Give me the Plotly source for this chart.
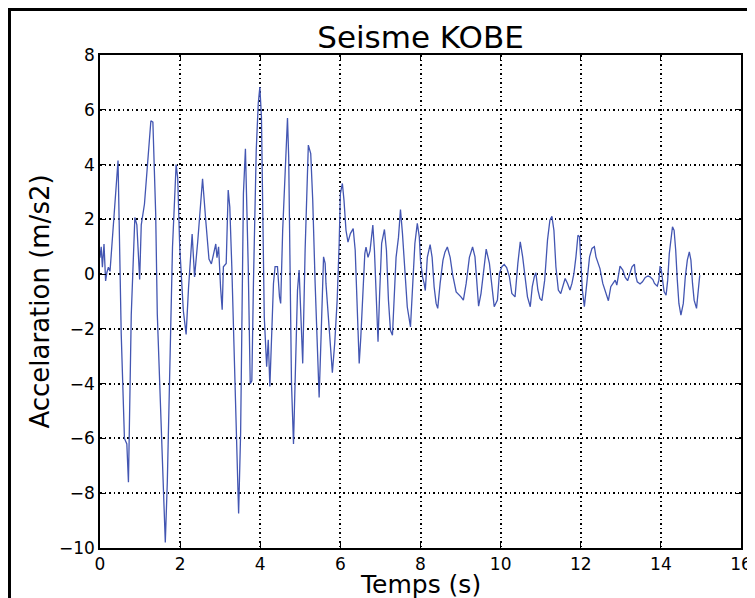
import plotly.graph_objects as go

# Time (s) and acceleration (m/s2)
t = [0.00, 0.03, 0.06, 0.10, 0.14, 0.17, 0.21, 0.25, 0.45, 0.53, 0.61, 0.67, 0.71,
     0.78, 0.87, 0.92, 0.99, 1.03, 1.11, 1.18, 1.27, 1.32, 1.39, 1.43, 1.51, 1.58, 1.63,
     1.68, 1.74, 1.81, 1.90, 1.94, 1.99, 2.08, 2.15, 2.21, 2.30, 2.36, 2.44, 2.56, 2.64,
     2.72, 2.78, 2.84, 2.89, 2.92, 2.96, 3.01, 3.05, 3.08, 3.15, 3.20, 3.24, 3.29, 3.35,
     3.40, 3.46, 3.51, 3.54, 3.58, 3.63, 3.66, 3.70, 3.75, 3.79, 3.83, 3.90, 3.95, 3.99,
     4.03, 4.06, 4.10, 4.16, 4.20, 4.24, 4.28, 4.33, 4.37, 4.43, 4.48, 4.51, 4.56, 4.62,
     4.68, 4.71, 4.74, 4.78, 4.83, 4.87, 4.93, 4.97, 5.01, 5.06, 5.12, 5.16, 5.20, 5.26,
     5.31, 5.37, 5.43, 5.47, 5.52, 5.58, 5.62, 5.64, 5.70, 5.76, 5.80, 5.86, 5.92, 5.97,
     6.00, 6.05, 6.09, 6.14, 6.19, 6.25, 6.32, 6.37, 6.40, 6.44, 6.47, 6.51, 6.56, 6.61,
     6.64, 6.69, 6.74, 6.81, 6.85, 6.89, 6.93, 6.94, 6.98, 7.03, 7.10, 7.15, 7.20, 7.25,
     7.30, 7.34, 7.39, 7.45, 7.50, 7.55, 7.61, 7.67, 7.75, 7.81, 7.86, 7.92, 7.97, 8.00,
     8.05, 8.09, 8.12, 8.17, 8.24, 8.29, 8.34, 8.39, 8.43, 8.49, 8.56, 8.61, 8.67, 8.74,
     8.80, 8.89, 8.95, 9.01, 9.07, 9.14, 9.22, 9.30, 9.36, 9.41, 9.45, 9.51, 9.57, 9.64,
     9.72, 9.78, 9.84, 9.92, 9.97, 10.03, 10.09, 10.15, 10.22, 10.28, 10.36, 10.43,
     10.49, 10.55, 10.61, 10.67, 10.74, 10.79, 10.84, 10.88, 10.93, 10.98, 11.03, 11.10,
     11.17, 11.23, 11.28, 11.33, 11.38, 11.44, 11.50, 11.55, 11.61, 11.67, 11.73, 11.78,
     11.83, 11.88, 11.93, 11.97, 12.00, 12.04, 12.09, 12.15, 12.22, 12.28, 12.34, 12.38,
     12.44, 12.48, 12.55, 12.63, 12.69, 12.75, 12.80, 12.86, 12.90, 12.94, 12.98, 13.05,
     13.11, 13.17, 13.22, 13.28, 13.34, 13.36, 13.41, 13.48, 13.54, 13.61, 13.68, 13.73,
     13.80, 13.84, 13.88, 13.91, 13.95, 13.98, 14.01, 14.05, 14.08, 14.13, 14.17, 14.21,
     14.25, 14.29, 14.33, 14.37, 14.41, 14.45, 14.50, 14.56, 14.61, 14.66, 14.71, 14.75,
     14.79, 14.83, 14.89, 14.93, 14.97, 15.04]
acc = [0.6, 1.0, 0.25, 1.1, -0.25, 0.05, 0.25, 0.1, 4.15, -2.2, -6.0, -6.2, -7.6,
       -1.5, 2.07, 1.8, -0.2, 1.8, 2.56, 4.0, 5.6, 5.55, 2.2, -1.46, -5.1, -8.2, -9.8,
       -7.6, -3.9, 1.0, 4.0, 3.5, 1.0, -1.34, -2.2, -0.5, 1.46, -0.1, 1.2, 3.48, 1.95,
       0.55, 0.37, 0.85, 1.1, 0.6, 1.0, -0.5, -1.3, 0.27, 0.39, 3.07, 2.45, 0.27, -2.77,
       -5.8, -8.74, -5.8, -2.2, 2.94, 4.58, 3.07, 0.27, -4.0, -3.9, -0.34, 4.52, 6.23, 6.83,
       5.74, 2.09, -1.56, -3.38, -2.4, -4.1, -2.5, -0.34, 0.27, 0.27, -0.83, -1.07, 1.6, 3.9,
       5.7, 4.28, 0.27, -4.0, -6.2, -4.0, -0.58, 0.15, -1.56, -3.26, 0.88, 3.31, 4.71, 4.4,
       2.7, -0.34, -3.38, -4.5, -2.2, 0.63, 0.39, -0.34, -1.56, -2.77, -3.6, -2.5, -0.95, 1.12,
       2.94, 3.31, 2.7, 1.6, 1.17, 1.48, 1.66, 0.87, -0.36, -1.8, -3.26, -2.3, -0.6, 0.75,
       0.99, 0.61, 0.85, 1.79, 0.87, -0.95, -2.3, -2.47, -0.71, 1.12, 1.63, 0.87, -0.95, -2.05,
       -2.23, -0.83, 0.61, 1.34, 2.36, 1.48, -0.1, -1.2, -1.93, -0.34, 1.12, 1.85, 1.36, 0.5,
       -0.1, -0.34, -0.6, 0.61, 1.08, 0.61, -0.46, -1.07, -1.25, -0.34, 0.5, 0.8, 0.99, 0.61,
       0.0, -0.65, -0.73, -0.83, -0.95, -0.34, 0.61, 0.99, 0.63, -0.46, -1.17, -0.71, 0.15, 0.91,
       0.39, -0.46, -1.19, -0.95, 0.03, 0.27, 0.35, 0.24, -0.1, -0.71, -0.83, 0.39, 1.18, 0.63,
       -0.22, -0.83, -1.19, -0.46, -0.1, 0.05, -0.58, -0.89, -0.97, -0.22, 1.24, 1.97, 2.11,
       1.6, 0.27, -0.58, -0.71, -0.46, -0.16, -0.34, -0.58, -0.34, 0.03, 0.63, 1.42, 1.36, 0.39,
       -0.58, -1.19, -0.22, 0.63, 0.94, 1.0, 0.63, 0.33, 0.2, -0.34, -0.71, -0.97, -0.46,
       -0.34, -0.22, -0.4, -0.1, 0.29, 0.15, -0.12, -0.24, -0.04, 0.27, 0.36, 0.03, -0.28,
       -0.36, -0.28, -0.12, -0.07, -0.1, -0.2, -0.34, -0.4, -0.44, -0.22, 0.29, 0.15, -0.34,
       -0.64, -0.77, -0.22, 0.75, 1.36, 1.73, 1.6, 0.87, -0.22, -1.07, -1.5, -1.07, -0.1,
       0.51, 0.81, 0.51, -0.34, -0.95, -1.25, -0.58, -0.04]

x_ticks = [0, 2, 4, 6, 8, 10, 12, 14, 16]
y_ticks = [-10, -8, -6, -4, -2, 0, 2, 4, 6, 8]

FONT = "DejaVu Sans"

fig = go.Figure()
fig.add_trace(go.Scatter(x=t, y=acc, mode="lines",
                         line=dict(color="#4356b2", width=1.3),
                         showlegend=False, hoverinfo="skip"))

axis_common = dict(
    showline=True, linecolor="black", linewidth=1.5, mirror="allticks",
    ticks="inside", ticklen=6, tickcolor="black", tickwidth=1,
    showgrid=True, gridcolor="black", gridwidth=1.5, griddash="1.5px,3px",
    zeroline=False, automargin=False,
    tickfont=dict(family=FONT, size=17, color="black"),
)

W, H = 747, 590
fig.update_layout(
    width=W, height=H,
    margin=dict(l=92, r=14, t=47, b=50),
    paper_bgcolor="white", plot_bgcolor="white",
    font=dict(family=FONT, color="black"),
    title=dict(text="Seisme KOBE", x=0.5, xref="paper", xanchor="center",
               y=1 - 29 / H, yref="container", yanchor="middle",
               font=dict(family=FONT, size=31, color="black")),
    xaxis=dict(range=[0, 16], tickvals=x_ticks, ticklabelstandoff=0, **axis_common),
    yaxis=dict(range=[-10, 8], tickvals=y_ticks, ticklabelstandoff=0,
               title=dict(text="Accelaration (m/s2)", font=dict(family=FONT, size=26), standoff=2),
               **axis_common),
    annotations=[dict(text="Temps (s)", xref="paper", yref="paper", x=0.5, y=-0.075,
                      xanchor="center", yanchor="middle", showarrow=False,
                      font=dict(family=FONT, size=25, color="black"))],
    shapes=[dict(type="rect", xref="paper", yref="paper",
                 x0=-0.1412, x1=1.0172, y0=-0.2, y1=1.0923,
                 line=dict(color="black", width=3), layer="below")],
)

fig.write_html("out.html")
